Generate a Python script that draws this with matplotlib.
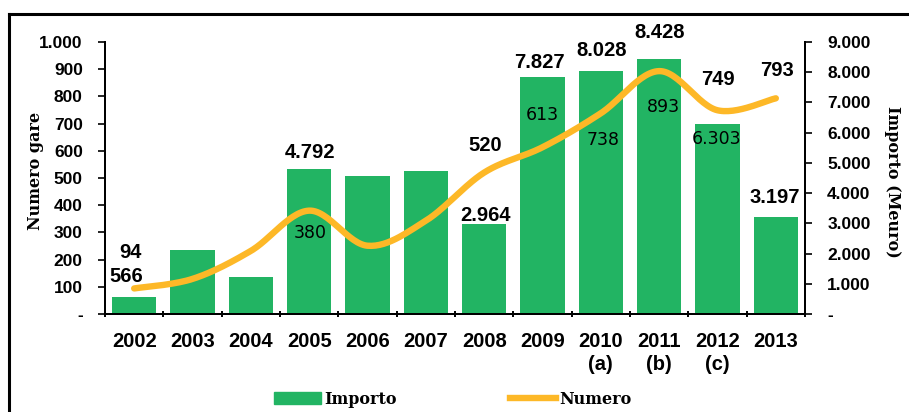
import numpy as np
import matplotlib
matplotlib.use('Agg')
from matplotlib import pyplot as plt
from matplotlib.ticker import FuncFormatter, FixedLocator
from matplotlib.lines import Line2D
from matplotlib.patches import Patch

anni = ['2002', '2003', '2004', '2005', '2006', '2007',
        '2008', '2009', '2010\n(a)', '2011\n(b)', '2012\n(c)', '2013']
importo = [566, 2125, 1230, 4792, 4550, 4716, 2964, 7827, 8028, 8428, 6303, 3197]
numero = [94, 129, 232, 380, 251, 343, 520, 613, 738, 893, 749, 793]

# etichette: (indice, offset in pixel, grassetto)
etich_importo = [(0, (-8, 20), True), (3, (1, 17), True), (6, (1, 9), True),
                 (7, (-3, 15), True), (8, (1, 21), True), (9, (0, 27), True),
                 (10, (-1, -15), False), (11, (-1, 20), True)]
etich_numero = [(0, (-4, 36), True), (3, (1, -22), False), (6, (1, 27), True),
                (7, (0, 32), False), (8, (2, -27), False), (9, (4, -36), False),
                (10, (0, 31), True), (11, (1, 28), True)]

VERDE = '#22b463'
GIALLO = '#fdb827'


def fmt_it(v, pos=None):
    if v == 0:
        return '-'
    return f'{int(round(v)):,}'.replace(',', '.')


def curva_smussata(x, y, n=30):
    # bezier cubiche tipo catmull-rom (linee smussate stile excel)
    x = np.asarray(x, float)
    y = np.asarray(y, float)
    px, py = [], []
    for i in range(len(x) - 1):
        i0 = max(i - 1, 0)
        i3 = min(i + 2, len(x) - 1)
        c1 = (x[i] + (x[i + 1] - x[i0]) / 6, y[i] + (y[i + 1] - y[i0]) / 6)
        c2 = (x[i + 1] - (x[i3] - x[i]) / 6, y[i + 1] - (y[i3] - y[i]) / 6)
        t = np.linspace(0, 1, n)
        b0, b1, b2, b3 = (1 - t) ** 3, 3 * t * (1 - t) ** 2, 3 * t ** 2 * (1 - t), t ** 3
        px.extend(b0 * x[i] + b1 * c1[0] + b2 * c2[0] + b3 * x[i + 1])
        py.extend(b0 * y[i] + b1 * c1[1] + b2 * c2[1] + b3 * y[i + 1])
    return px, py


fig = plt.figure(figsize=(9.09, 4.12), dpi=100)
ax = fig.add_axes([105 / 909, 98 / 412, 700 / 909, 272 / 412])
ax2 = ax.twinx()

xs = np.arange(len(anni))
ax.bar(xs, importo, width=0.755, color=VERDE, zorder=2)
ax.set_xlim(-0.5, len(anni) - 0.5)
ax.set_ylim(0, 9000)
ax.yaxis.tick_right()
ax.yaxis.set_major_locator(FixedLocator(np.arange(0, 9001, 1000)))
ax.yaxis.set_major_formatter(FuncFormatter(fmt_it))

cx, cy = curva_smussata(xs, numero)
ax2.plot(cx, cy, color=GIALLO, lw=4.6, solid_capstyle='round', zorder=3)
ax2.set_ylim(0, 1000)
ax2.yaxis.tick_left()
ax2.yaxis.set_major_locator(FixedLocator(np.arange(0, 1001, 100)))
ax2.yaxis.set_major_formatter(FuncFormatter(fmt_it))

tick_font = dict(family='Liberation Sans', weight='bold')
for a in (ax, ax2):
    a.spines['top'].set_visible(False)
    for s in ('left', 'right', 'bottom'):
        a.spines[s].set_linewidth(1.4)
    a.tick_params(axis='y', length=5, width=1.2, pad=11, labelsize=12.5)
    for lab in a.get_yticklabels():
        lab.set_fontproperties(tick_font)
        lab.set_fontsize(12.5)

ax.set_xticks(xs)
ax.set_xticklabels(anni, fontsize=14.5, fontweight='bold', family='Liberation Sans',
                   linespacing=1.25)
ax.tick_params(axis='x', which='major', length=0, pad=13)
ax.set_xticks(np.arange(-0.5, len(anni)), minor=True)
ax.tick_params(axis='x', which='minor', length=5, width=1.4, direction='inout')

for i, off, bold in etich_importo:
    ax.annotate(fmt_it(importo[i]), (xs[i], importo[i]), xytext=off,
                textcoords='offset pixels', ha='center', va='center', zorder=5,
                fontsize=14.5 if bold else 12.5,
                fontweight='bold' if bold else 'normal',
                family='Liberation Sans' if bold else 'DejaVu Sans')
for i, off, bold in etich_numero:
    ax2.annotate(fmt_it(numero[i]), (xs[i], numero[i]), xytext=off,
                 textcoords='offset pixels', ha='center', va='center', zorder=5,
                 fontsize=14.5 if bold else 12.5,
                 fontweight='bold' if bold else 'normal',
                 family='Liberation Sans' if bold else 'DejaVu Sans')

fig.text(35 / 909, 1 - 171 / 412, 'Numero gare', rotation=90, ha='center', va='center',
         family='DejaVu Serif', fontweight='bold', fontsize=11.5)
fig.text(893 / 909, 1 - 182 / 412, 'Importo (Meuro)', rotation=-90, ha='center', va='center',
         family='DejaVu Serif', fontweight='bold', fontsize=11.5)

handles = [Patch(color=VERDE), Line2D([], [], color=GIALLO, lw=4.6)]
fig.legend(handles, ['Importo', 'Numero'], loc='center', ncol=2, frameon=False,
           bbox_to_anchor=(453 / 909, 1 - 399 / 412), handlelength=2.9, handleheight=0.8,
           handletextpad=0.2, columnspacing=7.1, borderpad=0,
           prop=dict(family='DejaVu Serif', weight='bold', size=11.5))

# cornice
fig.add_artist(Line2D([9 / 909, 1], [1 - 14 / 412] * 2, color='black', lw=2.2))
fig.add_artist(Line2D([9 / 909] * 2, [0, 1 - 14 / 412], color='black', lw=2.2))

fig.savefig('out.png', dpi=100)
